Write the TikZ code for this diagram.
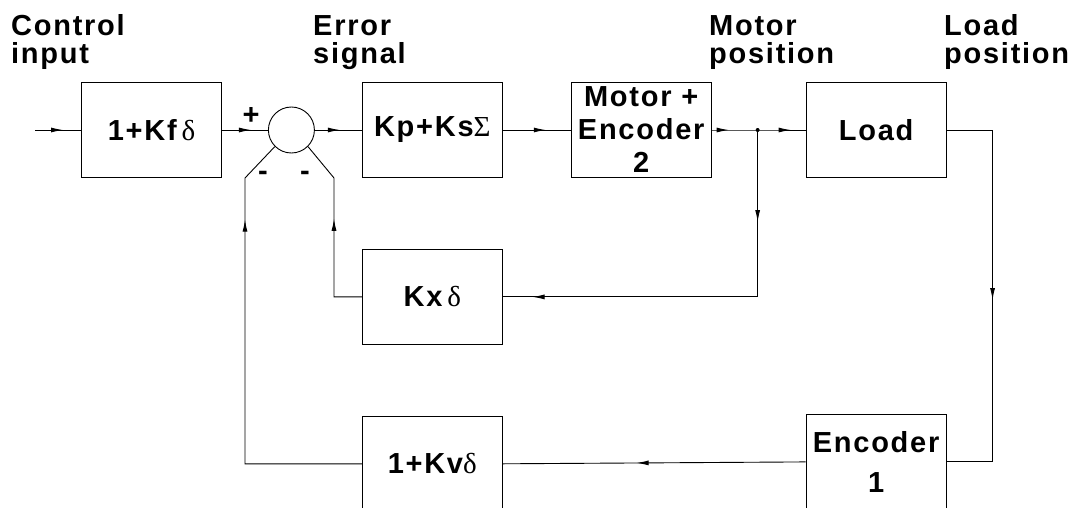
\documentclass[tikz,border=0pt]{standalone}
\usepackage{fontspec}
\usepackage{tikz}
\usetikzlibrary{positioning,arrows.meta,decorations.markings}
\newfontfamily\lblfont{Liberation Sans}[LetterSpace=6]
\newfontfamily\grk{Liberation Serif}
\tikzset{
  block/.style={draw, line width=0.9pt, minimum width=140pt, minimum height=95pt,
    inner sep=0pt, align=center, font=\lblfont\bfseries\fontsize{29}{33}\selectfont},
  sumnode/.style={draw, circle, line width=0.9pt, minimum size=46pt, inner sep=0pt},
  lbl/.style={align=left, inner sep=0pt, font=\lblfont\bfseries\fontsize{29}{28}\selectfont},
  sign/.style={inner sep=0pt, font=\lblfont\bfseries\fontsize{29}{28}\selectfont},
  wire/.style={line width=0.9pt},
  arrowat/.style={postaction={decorate, decoration={markings,
    mark=at position #1 with {\arrow{Latex[length=12pt,width=5pt]}}}}}
}
\begin{document}
\begin{tikzpicture}[x=1pt, y=-1pt]
  \useasboundingbox (0,0) rectangle (1073,507);
  \clip (0,0) rectangle (1073,507);

  % Define nodes
  \node[block] (ff) at (151.5,130) {1+Kf\,{\grk\mdseries δ}};
  \node[sumnode, right=46pt of ff] (sum) {};
  \node[block, right=47pt of sum] (pi) {Kp+Ks{\grk\mdseries Σ}};
  \node[block, right=68pt of pi] (mot) {Motor +\\Encoder\\2};
  \node[block, right=94pt of mot] (load) {Load};
  \node[block, below=71pt of pi] (kx) {Kx\,{\grk\mdseries δ}};
  \node[block, below=71pt of kx] (kv) {1+Kv{\grk\mdseries δ}};
  \node[block, below=236pt of load, font=\lblfont\bfseries\fontsize{29}{40}\selectfont] (enc) {Encoder\\1};

  \coordinate (in) at (35,130);
  \coordinate[right=46pt of mot] (jn);
  \coordinate[right=46pt of load] (rc);
  \coordinate (dl) at (245,178);
  \coordinate (dr) at (334,178);

  % Labels
  \node[lbl, anchor=base west] at (11,63.5) {Control\\input};
  \node[lbl, anchor=base west] at (313,63.5) {Error\\signal};
  \node[lbl, anchor=base west] at (709,63.5) {Motor\\position};
  \node[lbl, anchor=base west] at (944,63.5) {Load\\position};
  \node[sign] at (251,116) {+};
  \node[sign] at (263,176) {-};
  \node[sign] at (305,176) {-};

  % Connect the nodes
  \draw[wire, arrowat=28pt] (in) -- (ff.west);
  \draw[wire, arrowat=29pt] (ff.east) -- (sum.west);
  \draw[wire, arrowat=25pt] (sum.east) -- (pi.west);
  \draw[wire, arrowat=43pt] (pi.east) -- (mot.west);
  \draw[wire, arrowat=17pt, arrowat=79pt] (mot.east) -- (jn) -- (load.west);
  \fill (jn) circle (2pt);
  \draw[wire, arrowat=92pt, arrowat=392pt] (jn) |- (kx.east);
  \draw[wire, arrowat=216pt] (load.east) -- (rc) |- (enc.east);
  \draw[wire, arrowat=169pt] (enc.west) -- (kv.east);
  \draw[wire, arrowat=361pt] (kv.west) -| (dl) -- (sum.225);
  \draw[wire, arrowat=106pt] (kx.west) -| (dr) -- (sum.-45);

\end{tikzpicture}
\end{document}
